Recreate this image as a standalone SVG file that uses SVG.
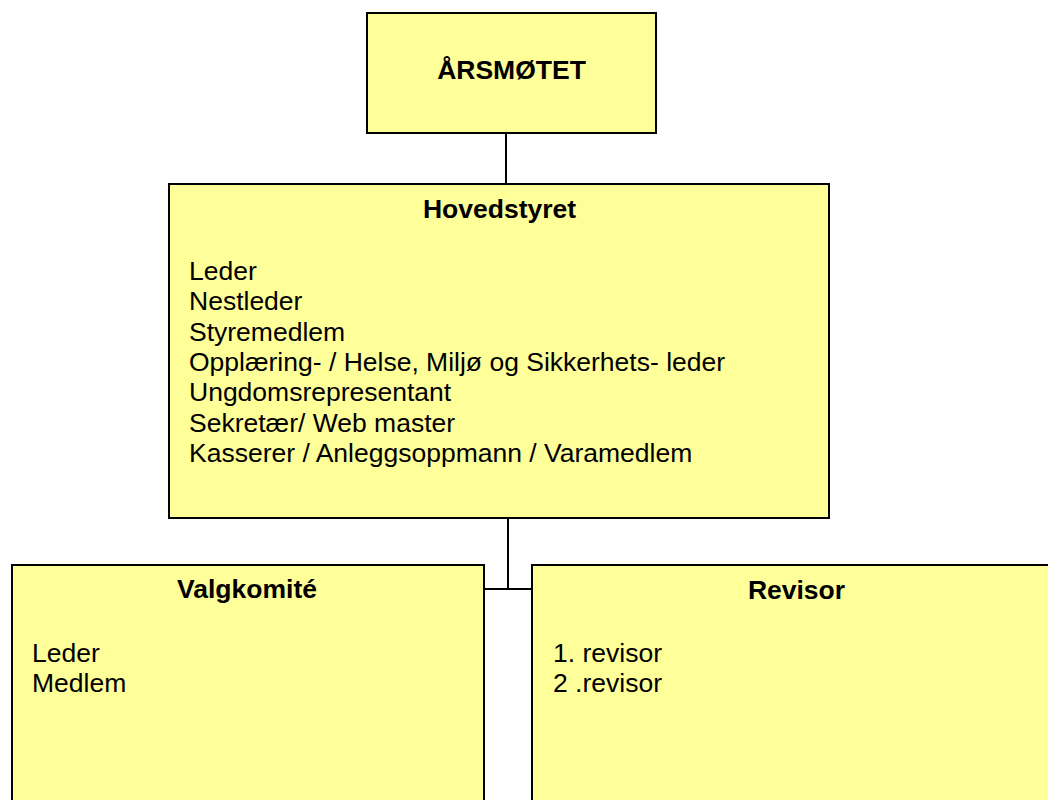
<svg xmlns="http://www.w3.org/2000/svg" width="1048" height="800" viewBox="0 0 1048 800">
<style>
.box{fill:#FFFF99;stroke:#000;stroke-width:2}
.con{stroke:#000;stroke-width:2;fill:none}
text{font-family:"Liberation Sans",Arial,sans-serif;font-size:26.5px;fill:#000}
.t{font-weight:bold;text-anchor:middle}
</style>
<rect width="1048" height="800" fill="#fff"/>
<g id="connectors">
<line class="con" x1="506" y1="133" x2="506" y2="184"/>
<line class="con" x1="508" y1="518" x2="508" y2="589"/>
<line class="con" x1="484" y1="589" x2="532" y2="589"/>
</g>
<g id="arsmotet">
<rect class="box" x="367" y="13" width="289" height="120"/>
<text class="t" x="511.5" y="78.5">ÅRSMØTET</text>
</g>
<g id="hovedstyret">
<rect class="box" x="169" y="184" width="660" height="334"/>
<text class="t" x="499.5" y="218">Hovedstyret</text>
<text x="189" y="280">Leder</text>
<text x="189" y="310.3">Nestleder</text>
<text x="189" y="340.6">Styremedlem</text>
<text x="189" y="370.9">Opplæring- / Helse, Miljø og Sikkerhets- leder</text>
<text x="189" y="401.2">Ungdomsrepresentant</text>
<text x="189" y="431.5">Sekretær/ Web master</text>
<text x="189" y="461.8">Kasserer / Anleggsoppmann / Varamedlem</text>
</g>
<g id="valgkomite">
<rect class="box" x="12" y="565" width="472" height="250"/>
<text class="t" x="247" y="598">Valgkomité</text>
<text x="32" y="662">Leder</text>
<text x="32" y="692">Medlem</text>
</g>
<g id="revisor">
<rect class="box" x="532" y="565" width="530" height="250"/>
<text class="t" x="796.5" y="599">Revisor</text>
<text x="553" y="662">1. revisor</text>
<text x="553" y="692">2 .revisor</text>
</g>
</svg>
